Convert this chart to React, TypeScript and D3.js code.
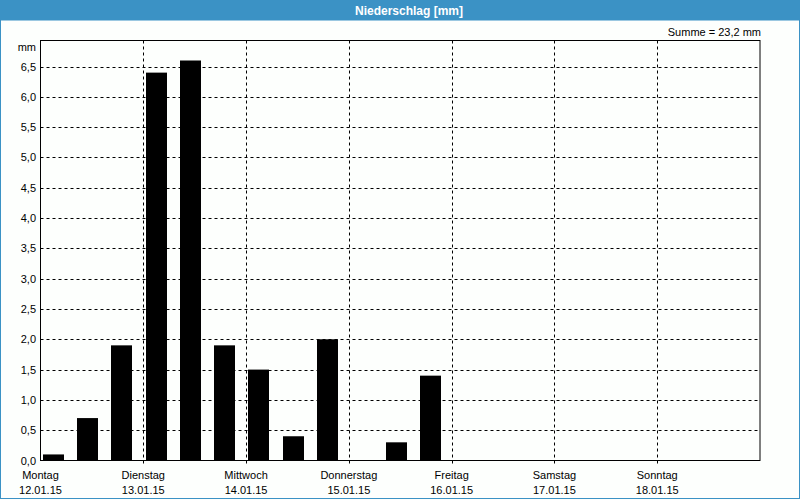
import React from "react";
import * as d3 from "d3";

const title = "Niederschlag [mm]";
const unit = "mm";
const dayNames = ["Montag", "Dienstag", "Mittwoch", "Donnerstag", "Freitag", "Samstag", "Sonntag"];
const dayDates = ["12.01.15", "13.01.15", "14.01.15", "15.01.15", "16.01.15", "17.01.15", "18.01.15"];
// precipitation per 8-hour interval (3 per day)
const values = [0.1, 0.7, 1.9, 6.4, 6.6, 1.9, 1.5, 0.4, 2.0, 0, 0.3, 1.4, 0, 0, 0, 0, 0, 0, 0, 0, 0];
const yTicks = [0, 0.5, 1, 1.5, 2, 2.5, 3, 3.5, 4, 4.5, 5, 5.5, 6, 6.5];

const W = 800;
const H = 500;
const BLUE = "#3b92c5";
const FONT = "'Liberation Sans', Arial, sans-serif";

export default function App() {
  const left = 40.5;
  const right = 760;
  const top = 40.5;
  const bottom = 460.5;
  const yMax = (d3.max(values) ?? 1) * 1.05;
  const y = d3.scaleLinear().domain([0, yMax]).range([bottom, top]);
  const xDay = d3.scaleLinear().domain([0, dayNames.length]).range([left, right]);
  const xBar = d3
    .scaleBand<number>()
    .domain(values.map((_, i) => i))
    .range([left, right])
    .padding(0);
  const step = xBar.step();
  const fmt = (v: number) => d3.format(".1f")(v).replace(".", ",");
  const total = d3.sum(values);

  return (
    <svg
      width={W}
      height={H}
      style={{ position: "fixed", left: 0, top: 0, background: "#fff" }}
      fontFamily={FONT}
    >
      <rect x={0} y={0} width={W} height={H} fill="#fdfffd" />
      <rect x={0.5} y={0.5} width={W - 1} height={H - 2} fill="none" stroke={BLUE} strokeWidth={1} />
      <rect x={0} y={0} width={W} height={20.5} fill={BLUE} />
      <text x={409} y={14.5} textAnchor="middle" fill="#fff" fontWeight="bold" fontSize={12}>
        {title}
      </text>
      <text x={761} y={36} textAnchor="end" fontSize={11} fill="#000">
        {`Summe = ${fmt(total)} ${unit}`}
      </text>
      <text x={36} y={50.5} textAnchor="end" fontSize={11} fill="#000">
        {unit}
      </text>

      {/* horizontal grid */}
      {yTicks.filter((t) => t > 0).map((t) => (
        <line
          key={"h" + t}
          x1={left}
          x2={right}
          y1={Math.round(y(t)) + 0.5}
          y2={Math.round(y(t)) + 0.5}
          stroke="#000"
          strokeDasharray="3,3"
        />
      ))}
      {/* vertical grid */}
      {dayNames.slice(1).map((_, i) => {
        const xx = Math.round(xDay(i + 1)) + 0.5;
        return (
          <line key={"v" + i} x1={xx} x2={xx} y1={top} y2={bottom + 3} stroke="#000" strokeDasharray="3,3" />
        );
      })}

      {/* bars */}
      {values.map((v, i) =>
        v > 0 ? (
          <rect
            key={"b" + i}
            x={Math.round((xBar(i) ?? 0) + step * 0.07)}
            y={y(v)}
            width={Math.round(step * 0.62)}
            height={bottom - y(v)}
            fill="#000"
          />
        ) : null
      )}

      {/* frame */}
      <rect x={left} y={top} width={right - left} height={bottom - top} fill="none" stroke="#000" strokeWidth={1} />

      {/* y labels */}
      {yTicks.map((t) => (
        <text key={"y" + t} x={36} y={y(t) + 4} textAnchor="end" fontSize={11} fill="#000">
          {fmt(t)}
        </text>
      ))}

      {/* x labels */}
      {dayNames.map((d, i) => (
        <g key={"d" + i}>
          <text x={xDay(i)} y={479} textAnchor="middle" fontSize={11} fill="#000">
            {d}
          </text>
          <text x={xDay(i)} y={494} textAnchor="middle" fontSize={11} fill="#000">
            {dayDates[i]}
          </text>
        </g>
      ))}
    </svg>
  );
}
